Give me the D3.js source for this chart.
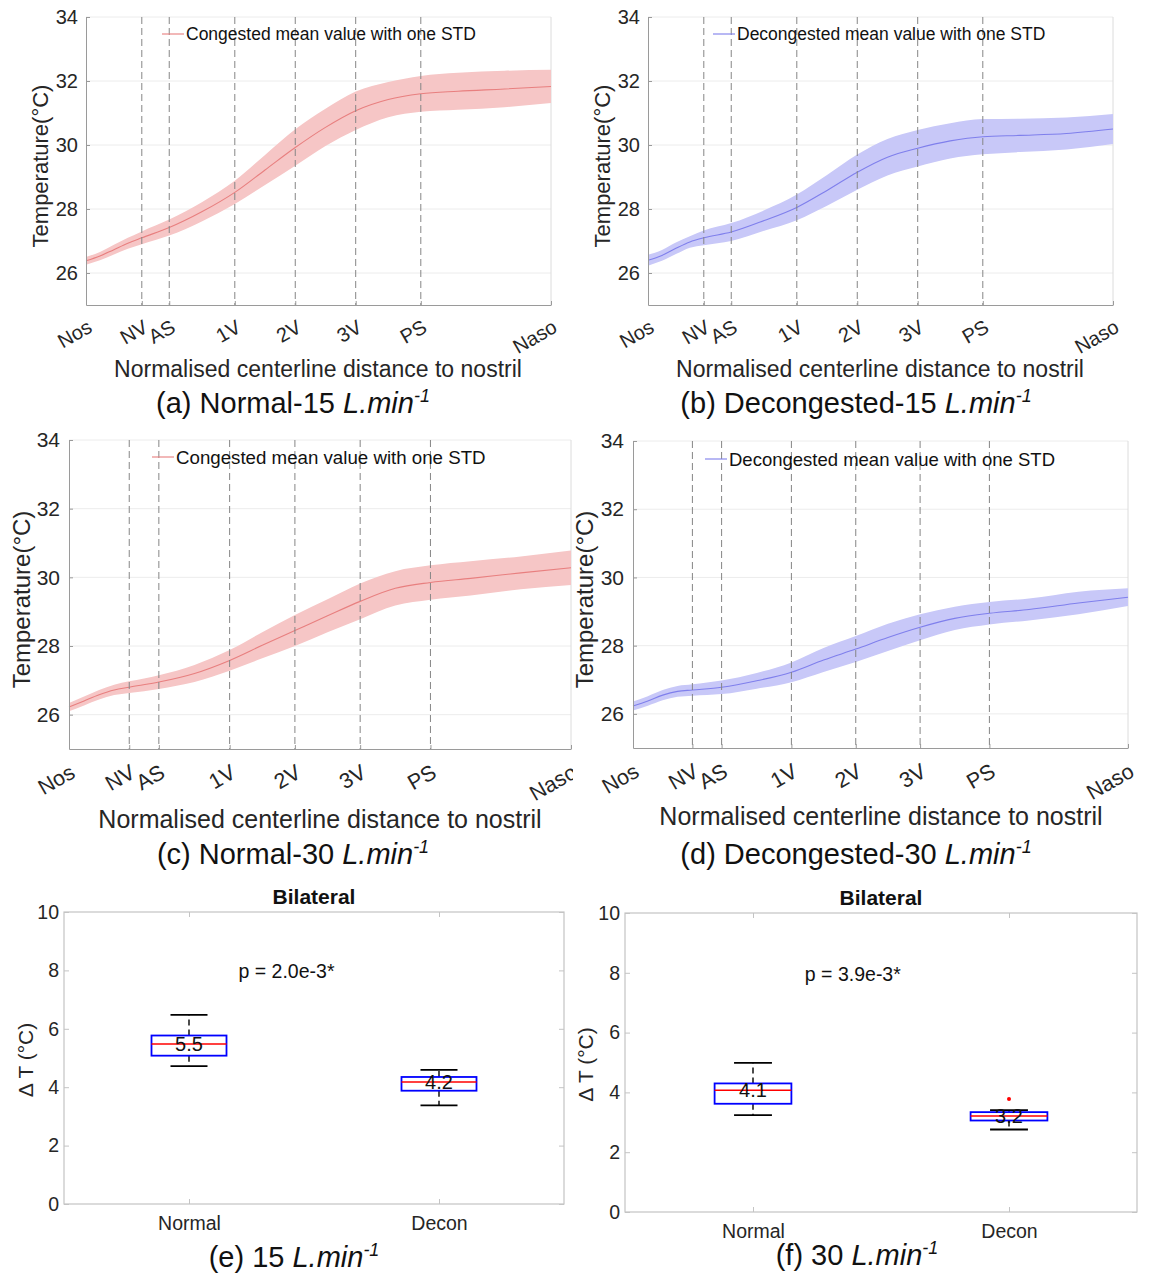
<!DOCTYPE html>
<html lang="en">
<head>
<meta charset="UTF-8">
<title>Centerline temperature</title>
<script src="https://d3js.org/d3.v7.min.js"></script>
<style>
  body { margin: 0; background: #fff; }
  svg { display: block; font-family: "Liberation Sans", Arial, Helvetica, sans-serif; }
</style>
</head>
<body>
<div id="chart"></div>
<script>
// landmarks along the normalised centerline
const landmarkPos = [0, 0.12, 0.179, 0.32, 0.45, 0.58, 0.72, 1];
const landmarkLabels = ["Nos", "NV", "AS", "1V", "2V", "3V", "PS", "Naso"];
const tempTicks = [26, 28, 30, 32, 34];

// sampled profile positions
const sampleX = [0, 0.03, 0.06, 0.09, 0.12, 0.179, 0.25, 0.32, 0.385, 0.45, 0.515, 0.58, 0.65, 0.72, 0.8, 0.9, 1.0];

const meanNormal15 = [26.38, 26.53, 26.73, 26.93, 27.1, 27.42, 27.92, 28.52, 29.22, 29.92, 30.55, 31.07, 31.42, 31.6, 31.68, 31.75, 31.83];
const stdNormal15  = [0.12, 0.13, 0.15, 0.17, 0.2, 0.25, 0.3, 0.36, 0.47, 0.57, 0.58, 0.6, 0.55, 0.56, 0.58, 0.57, 0.52];

const meanDecon15 = [26.4, 26.55, 26.77, 26.97, 27.1, 27.28, 27.64, 28.05, 28.58, 29.15, 29.62, 29.9, 30.13, 30.26, 30.3, 30.36, 30.5];
const stdDecon15  = [0.17, 0.17, 0.18, 0.18, 0.23, 0.28, 0.32, 0.4, 0.48, 0.55, 0.57, 0.57, 0.55, 0.55, 0.52, 0.5, 0.47];

const meanNormal30 = [26.22, 26.4, 26.58, 26.72, 26.8, 26.95, 27.2, 27.58, 28.02, 28.45, 28.88, 29.3, 29.68, 29.85, 29.97, 30.13, 30.28];
const stdNormal30  = [0.12, 0.13, 0.14, 0.15, 0.17, 0.2, 0.25, 0.3, 0.38, 0.45, 0.48, 0.52, 0.5, 0.5, 0.5, 0.48, 0.5];

const meanDecon30 = [26.23, 26.38, 26.55, 26.66, 26.7, 26.78, 26.97, 27.22, 27.58, 27.9, 28.24, 28.54, 28.8, 28.95, 29.06, 29.25, 29.42];
const stdDecon30  = [0.13, 0.14, 0.15, 0.16, 0.17, 0.2, 0.23, 0.29, 0.35, 0.38, 0.4, 0.38, 0.34, 0.33, 0.32, 0.33, 0.26];

// box plots: [lower whisker, q1, median, q3, upper whisker]
const boxGroups = ["Normal", "Decon"];
const deltaTicks = [0, 2, 4, 6, 8, 10];
const box15Normal = [4.72, 5.08, 5.48, 5.77, 6.48];
const box15Decon  = [3.38, 3.88, 4.18, 4.35, 4.59];
const box30Normal = [3.24, 3.62, 4.07, 4.30, 4.99];
const box30Decon  = [2.76, 3.06, 3.21, 3.34, 3.41];
const box30DeconOutliers = [3.78];
const pText15 = "p = 2.0e-3*";
const pText30 = "p = 3.9e-3*";

const W = 1152, H = 1276;
const svg = d3.select("#chart").append("svg")
  .attr("width", W).attr("height", H);
svg.append("rect").attr("width", W).attr("height", H).attr("fill", "#fff");

const red = { band: "#f6c6c6", line: "#e87f7f" };
const blue = { band: "#c8c8f8", line: "#7f7fec" };

function caption(cx, y, prefix, size) {
  const t = svg.append("text")
    .attr("x", cx).attr("y", y)
    .attr("text-anchor", "middle")
    .style("font-size", size + "px")
    .attr("fill", "#111");
  t.append("tspan").text(prefix);
  t.append("tspan").style("font-style", "italic").text("L.min");
  t.append("tspan").style("font-style", "italic")
    .style("font-size", (size * 0.62) + "px")
    .attr("dy", -size * 0.38).text("-1");
}

function linePanel(cfg) {
  const g = svg.append("g");
  if (cfg.clipRight) {
    const id = "clip" + cfg.id;
    svg.append("clipPath").attr("id", id).append("rect")
      .attr("x", 0).attr("y", 0).attr("width", cfg.clipRight).attr("height", H);
    g.attr("clip-path", `url(#${id})`);
  }
  const x = d3.scaleLinear().domain([0, 1]).range([cfg.left, cfg.right]);
  const y = d3.scaleLinear().domain([25, 34]).range([cfg.bottom, cfg.top]);

  g.selectAll(".grid").data(tempTicks).join("line")
    .attr("x1", cfg.left).attr("x2", cfg.right)
    .attr("y1", d => y(d)).attr("y2", d => y(d))
    .attr("stroke", "#ececec").attr("stroke-width", 1);

  g.append("line")
    .attr("x1", cfg.right).attr("x2", cfg.right)
    .attr("y1", cfg.top).attr("y2", cfg.bottom)
    .attr("stroke", "#dcdcdc");

  const pts = sampleX.map((d, i) => ({ x: d, m: cfg.mean[i], s: cfg.std[i] }));
  const area = d3.area()
    .x(d => x(d.x)).y0(d => y(d.m - d.s)).y1(d => y(d.m + d.s))
    .curve(d3.curveMonotoneX);
  const line = d3.line().x(d => x(d.x)).y(d => y(d.m)).curve(d3.curveMonotoneX);

  g.append("path").datum(pts).attr("d", area).attr("fill", cfg.color.band);
  g.append("path").datum(pts).attr("d", line)
    .attr("fill", "none").attr("stroke", cfg.color.line).attr("stroke-width", 1.1);

  g.selectAll(".lm").data(landmarkPos.slice(1, -1)).join("line")
    .attr("x1", d => x(d)).attr("x2", d => x(d))
    .attr("y1", cfg.top).attr("y2", cfg.bottom)
    .attr("stroke", "#858585").attr("stroke-width", 1)
    .attr("stroke-dasharray", "7,4");

  // legend
  g.append("line")
    .attr("x1", cfg.legX).attr("x2", cfg.legX + 22)
    .attr("y1", cfg.legY).attr("y2", cfg.legY)
    .attr("stroke", cfg.color.line).attr("stroke-width", 1.1);
  g.append("text")
    .attr("x", cfg.legX + 24).attr("y", cfg.legY)
    .attr("dominant-baseline", "central")
    .style("font-size", cfg.legFont + "px")
    .attr("fill", "#111")
    .text(cfg.legend);

  const yAxis = g.append("g")
    .attr("transform", `translate(${cfg.left},0)`)
    .call(d3.axisLeft(y).tickValues(tempTicks).tickSize(-4).tickSizeOuter(0).tickPadding(cfg.yPad));
  const xAxis = g.append("g")
    .attr("transform", `translate(0,${cfg.bottom})`)
    .call(d3.axisBottom(x).tickValues(landmarkPos).tickSize(-4).tickSizeOuter(0)
      .tickFormat((d, i) => landmarkLabels[i]));
  [yAxis, xAxis].forEach(a => {
    a.attr("font-family", null).attr("font-size", null);
    a.select(".domain").attr("stroke", "#9a9a9a");
    a.selectAll(".tick line").attr("stroke", "#9a9a9a");
    a.selectAll("text").attr("fill", "#262626");
  });
  yAxis.selectAll("text").style("font-size", cfg.tickFont + "px");
  xAxis.selectAll("text")
    .style("font-size", cfg.xTickFont + "px")
    .attr("text-anchor", "end")
    .attr("x", 0).attr("y", 0).attr("dy", 0)
    .attr("transform", `translate(7,${cfg.xTickFont + 6}) rotate(-30)`);

  svg.append("text")
    .attr("transform", `translate(${cfg.yLabX},${(cfg.top + cfg.bottom) / 2 + 5}) rotate(-90)`)
    .attr("text-anchor", "middle").attr("dominant-baseline", "central")
    .style("font-size", cfg.yLabFont + "px").attr("fill", "#262626")
    .text("Temperature(°C)");
  svg.append("text")
    .attr("x", cfg.xLabX).attr("y", cfg.xLabY)
    .attr("text-anchor", "middle")
    .style("font-size", cfg.labFont + "px").attr("fill", "#262626")
    .text("Normalised centerline distance to nostril");
  caption(cfg.capX, cfg.capY, cfg.caption, 29);
}

function boxPanel(cfg) {
  const g = svg.append("g");
  const x = d3.scaleLinear().domain([0.5, 2.5]).range([cfg.left, cfg.right]);
  const y = d3.scaleLinear().domain([0, 10]).range([cfg.bottom, cfg.top]);

  g.append("rect")
    .attr("x", cfg.left).attr("y", cfg.top)
    .attr("width", cfg.right - cfg.left).attr("height", cfg.bottom - cfg.top)
    .attr("fill", "none").attr("stroke", "#c4c4c4").attr("stroke-width", 1.2);

  const styleAxis = a => {
    a.attr("font-family", null).attr("font-size", null);
    a.select(".domain").remove();
    a.selectAll(".tick line").attr("stroke", "#c4c4c4");
    a.selectAll("text").attr("fill", "#262626").style("font-size", "19.5px");
  };
  g.append("g").attr("transform", `translate(${cfg.left},0)`)
    .call(d3.axisLeft(y).tickValues(deltaTicks).tickSize(-5).tickPadding(5)).call(styleAxis);
  g.append("g").attr("transform", `translate(${cfg.right},0)`)
    .call(d3.axisRight(y).tickValues(deltaTicks).tickSize(-5).tickFormat("")).call(styleAxis);
  g.append("g").attr("transform", `translate(0,${cfg.bottom})`)
    .call(d3.axisBottom(x).tickValues([1, 2]).tickSize(-5).tickPadding(cfg.catPad)
      .tickFormat((d, i) => boxGroups[i])).call(styleAxis);
  g.append("g").attr("transform", `translate(0,${cfg.top})`)
    .call(d3.axisTop(x).tickValues([1, 2]).tickSize(-5).tickFormat("")).call(styleAxis);

  const half = 0.15, cap = 0.074;
  const fmt = d3.format(".1f");
  cfg.boxes.forEach((b, i) => {
    const c = i + 1;
    [[b[3], b[4]], [b[1], b[0]]].forEach(([from, to]) => {
      g.append("line").attr("x1", x(c)).attr("x2", x(c))
        .attr("y1", y(from)).attr("y2", y(to))
        .attr("stroke", "#000").attr("stroke-width", 1.4).attr("stroke-dasharray", "6,4");
      g.append("line").attr("x1", x(c - cap)).attr("x2", x(c + cap))
        .attr("y1", y(to)).attr("y2", y(to))
        .attr("stroke", "#000").attr("stroke-width", 1.8);
    });
    g.append("rect")
      .attr("x", x(c - half)).attr("y", y(b[3]))
      .attr("width", x(c + half) - x(c - half)).attr("height", y(b[1]) - y(b[3]))
      .attr("fill", "none").attr("stroke", "#0000ff").attr("stroke-width", 1.8);
    g.append("line").attr("x1", x(c - half)).attr("x2", x(c + half))
      .attr("y1", y(b[2])).attr("y2", y(b[2]))
      .attr("stroke", "#ff0000").attr("stroke-width", 1.6);
    g.append("text")
      .attr("x", x(c)).attr("y", y(b[2]))
      .attr("text-anchor", "middle").attr("dominant-baseline", "central")
      .style("font-size", "20px").attr("fill", "#111")
      .text(fmt(b[2]));
  });
  (cfg.outliers || []).forEach(o => {
    g.append("circle").attr("cx", x(o[0])).attr("cy", y(o[1])).attr("r", 2)
      .attr("fill", "#ff0000");
  });

  g.append("text")
    .attr("x", x(1.39)).attr("y", y(7.97))
    .attr("text-anchor", "middle").attr("dominant-baseline", "central")
    .style("font-size", "19.5px").attr("fill", "#111")
    .text(cfg.pText);
  g.append("text")
    .attr("x", (cfg.left + cfg.right) / 2).attr("y", cfg.top - 8)
    .attr("text-anchor", "middle")
    .style("font-size", "21px").style("font-weight", "bold").attr("fill", "#111")
    .text("Bilateral");
  svg.append("text")
    .attr("transform", `translate(${cfg.yLabX},${(cfg.top + cfg.bottom) / 2 + 2}) rotate(-90)`)
    .attr("text-anchor", "middle").attr("dominant-baseline", "central")
    .style("font-size", "21px").attr("fill", "#262626")
    .text("Δ T (°C)");
  caption(cfg.capX, cfg.capY, cfg.caption, 29);
}

linePanel({
  id: "a", left: 86, right: 551, top: 17, bottom: 305,
  mean: meanNormal15, std: stdNormal15, color: red,
  legX: 162, legY: 34, legFont: 17.5, legend: "Congested mean value with one STD",
  tickFont: 20, xTickFont: 20, yPad: 8, labFont: 23, yLabFont: 22, yLabX: 40, xLabX: 318, xLabY: 377,
  capX: 293, capY: 413, caption: "(a) Normal-15 "
});
linePanel({
  id: "b", left: 648, right: 1113, top: 17, bottom: 305,
  mean: meanDecon15, std: stdDecon15, color: blue,
  legX: 713, legY: 34, legFont: 17.5, legend: "Decongested mean value with one STD",
  tickFont: 20, xTickFont: 20, yPad: 8, labFont: 23, yLabFont: 22, yLabX: 602, xLabX: 880, xLabY: 377,
  capX: 856, capY: 413, caption: "(b) Decongested-15 "
});
linePanel({
  id: "c", left: 69, right: 571, top: 440, bottom: 749, clipRight: 573,
  mean: meanNormal30, std: stdNormal30, color: red,
  legX: 152, legY: 457, legFont: 18.7, legend: "Congested mean value with one STD",
  tickFont: 21, xTickFont: 21.5, yPad: 9, labFont: 25, yLabFont: 24, yLabX: 21, xLabX: 320, xLabY: 828,
  capX: 293, capY: 864, caption: "(c) Normal-30 "
});
linePanel({
  id: "d", left: 633, right: 1128, top: 441, bottom: 748,
  mean: meanDecon30, std: stdDecon30, color: blue,
  legX: 705, legY: 459, legFont: 18.5, legend: "Decongested mean value with one STD",
  tickFont: 21, xTickFont: 21.5, yPad: 9, labFont: 25, yLabFont: 24, yLabX: 584, xLabX: 881, xLabY: 825,
  capX: 856, capY: 864, caption: "(d) Decongested-30 "
});

boxPanel({
  left: 64, right: 564, top: 912, bottom: 1204,
  boxes: [box15Normal, box15Decon], pText: pText15, catPad: 12,
  yLabX: 25, capX: 294, capY: 1267, caption: "(e) 15 "
});
boxPanel({
  left: 625, right: 1137, top: 913, bottom: 1212,
  boxes: [box30Normal, box30Decon], pText: pText30, catPad: 12,
  outliers: box30DeconOutliers.map(v => [2, v]),
  yLabX: 585, capX: 857, capY: 1265, caption: "(f) 30 "
});
</script>
</body>
</html>
